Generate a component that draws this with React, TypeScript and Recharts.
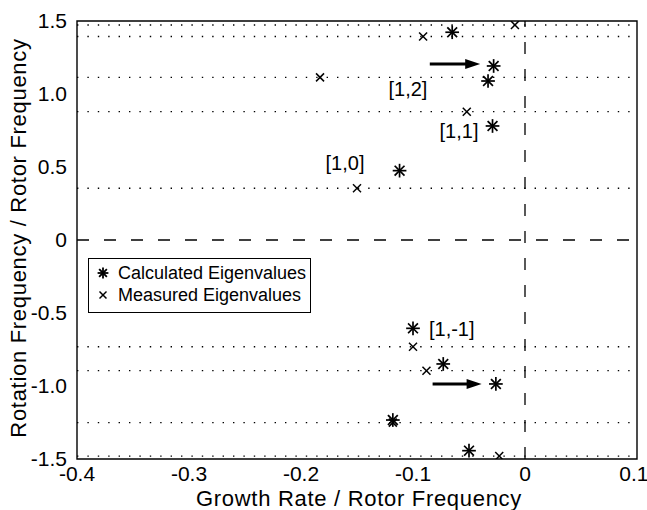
import { ScatterChart, Scatter, XAxis, YAxis, ReferenceLine, ReferenceArea, Legend } from 'recharts';

// Calculated eigenvalues (growth rate, rotation frequency), both normalised by rotor frequency
const calcGrowth = [-0.065, -0.028, -0.033, -0.029, -0.112, -0.1, -0.073, -0.026, -0.118, -0.05];
const calcRotation = [1.423, 1.192, 1.089, 0.781, 0.475, -0.605, -0.849, -0.986, -1.233, -1.443];

// Measured eigenvalues
const measGrowth = [-0.009, -0.091, -0.183, -0.052, -0.15, -0.1, -0.088, -0.118, -0.023];
const measRotation = [1.473, 1.394, 1.114, 0.879, 0.354, -0.731, -0.895, -1.251, -1.48];

// Mode labels
const modeNames = ['[1,2]', '[1,1]', '[1,0]', '[1,-1]'];
const modeGrowth = [-0.1045, -0.0589, -0.1607, -0.0654];
const modeRotation = [1.034, 0.747, 0.527, -0.612];

// Arrows pointing at the shifted eigenvalues
const arrowFrom = [-0.085, -0.0825];
const arrowTo = [-0.04, -0.0387];
const arrowRotation = [1.205, -0.986];

const xTicks = [-0.4, -0.3, -0.2, -0.1, 0, 0.1];
const yTicks = [-1.5, -1, -0.5, 0, 0.5, 1, 1.5];

const seriesNames = ['Calculated Eigenvalues', 'Measured Eigenvalues'];

const calcData = calcGrowth.map((x, i) => ({ x, y: calcRotation[i] }));
const measData = measGrowth.map((x, i) => ({ x, y: measRotation[i] }));
const modeData = modeNames.map((name, i) => ({ x: modeGrowth[i], y: modeRotation[i], name }));

const FONT = '"Liberation Sans", Arial, Helvetica, sans-serif';

const fmt = (v: number) => (v === 0 ? '0' : v.toFixed(1));

const Star = ({ cx, cy, r = 6, w = 1.7 }: any) => {
  const d = r * 0.72;
  return (
    <g stroke="#000" strokeWidth={w} strokeLinecap="square">
      <line x1={cx - r} y1={cy} x2={cx + r} y2={cy} />
      <line x1={cx} y1={cy - r} x2={cx} y2={cy + r} />
      <line x1={cx - d} y1={cy - d} x2={cx + d} y2={cy + d} />
      <line x1={cx - d} y1={cy + d} x2={cx + d} y2={cy - d} />
    </g>
  );
};

const Cross = ({ cx, cy, r = 4, w = 1.5 }: any) => (
  <g stroke="#000" strokeWidth={w}>
    <line x1={cx - r} y1={cy - r} x2={cx + r} y2={cy + r} />
    <line x1={cx - r} y1={cy + r} x2={cx + r} y2={cy - r} />
  </g>
);

const ModeLabel = ({ cx, cy, payload }: any) => (
  <text
    x={cx}
    y={cy}
    textAnchor="middle"
    dominantBaseline="central"
    fontFamily={FONT}
    fontSize={20}
    fill="#000"
  >
    {payload.name}
  </text>
);

const Arrow = ({ x1, y1, x2, y2 }: any) => {
  const head = 15;
  return (
    <g>
      <line x1={x1} y1={y1} x2={x2 - head + 2} y2={y2} stroke="#000" strokeWidth={3} />
      <polygon points={`${x2},${y2} ${x2 - head},${y2 - 5} ${x2 - head},${y2 + 5}`} fill="#000" />
    </g>
  );
};

const LegendBox = () => (
  <div
    style={{
      width: 223,
      height: 55,
      boxSizing: 'border-box',
      border: '1.3px solid #000',
      background: '#fff',
      fontFamily: FONT,
      fontSize: 18,
      color: '#000',
      paddingTop: 3,
    }}
  >
    {seriesNames.map((name, i) => (
      <div key={name} style={{ display: 'flex', alignItems: 'center', height: 22 }}>
        <svg width={28} height={22}>
          {i === 0 ? <Star cx={14} cy={11} r={4.5} w={1.8} /> : <Cross cx={14} cy={11} r={3.5} w={1.5} />}
        </svg>
        <span style={{ marginLeft: 1 }}>{name}</span>
      </div>
    ))}
  </div>
);

const titleStyle = { letterSpacing: '0.7px' };

export default function App() {
  return (
    <div style={{ position: 'absolute', left: 0, top: 0, background: '#fff' }}>
      <ScatterChart width={647} height={510} margin={{ top: 21, right: 10, left: 0, bottom: 0 }}>
        <XAxis
          type="number"
          dataKey="x"
          domain={[-0.4, 0.1]}
          ticks={xTicks}
          tickFormatter={fmt}
          allowDataOverflow
          axisLine={false}
          tickLine={false}
          tickMargin={1}
          height={51}
          tick={{ fill: '#000', fontSize: 21, fontFamily: FONT }}
          label={{
            value: 'Growth Rate / Rotor Frequency',
            position: 'insideBottom',
            offset: 4,
            dx: 2,
            fill: '#000',
            fontSize: 22,
            fontFamily: FONT,
            letterSpacing: 0.7,
            style: titleStyle,
          }}
        />
        <YAxis
          type="number"
          dataKey="y"
          domain={[-1.5, 1.5]}
          ticks={yTicks}
          tickFormatter={fmt}
          allowDataOverflow
          axisLine={false}
          tickLine={false}
          tickMargin={4}
          width={77}
          tick={{ fill: '#000', fontSize: 21, fontFamily: FONT }}
          label={{
            value: 'Rotation Frequency / Rotor Frequency',
            angle: -90,
            position: 'center',
            dx: -20,
            dy: -2,
            fill: '#000',
            fontSize: 22,
            fontFamily: FONT,
            letterSpacing: 0.7,
            style: titleStyle,
          }}
        />

        {measRotation.map((v) => (
          <ReferenceLine key={`m${v}`} y={v} stroke="#000" strokeWidth={1.4} strokeDasharray="1.4 9" />
        ))}
        <ReferenceLine y={0} stroke="#000" strokeWidth={1.3} strokeDasharray="12 15" />
        <ReferenceLine x={0} stroke="#000" strokeWidth={1.3} strokeDasharray="12 15" />
        <ReferenceArea x1={-0.4} x2={0.1} y1={-1.5} y2={1.5} fill="none" stroke="#000" strokeWidth={1.4} />

        {arrowRotation.map((y, i) => (
          <ReferenceLine
            key={`a${i}`}
            segment={[
              { x: arrowFrom[i], y },
              { x: arrowTo[i], y },
            ]}
            shape={(p: any) => <Arrow {...p} />}
          />
        ))}

        <Scatter
          name={seriesNames[0]}
          data={calcData}
          shape={(p: any) => <Star cx={p.cx} cy={p.cy} />}
          isAnimationActive={false}
        />
        <Scatter
          name={seriesNames[1]}
          data={measData}
          shape={(p: any) => <Cross cx={p.cx} cy={p.cy} />}
          isAnimationActive={false}
        />
        <Scatter
          data={modeData}
          shape={(p: any) => <ModeLabel {...p} />}
          legendType="none"
          isAnimationActive={false}
        />

        <Legend
          layout="vertical"
          align="center"
          verticalAlign="middle"
          content={() => <LegendBox />}
          wrapperStyle={{ left: 88, top: 258, width: 223 }}
        />
      </ScatterChart>
    </div>
  );
}
